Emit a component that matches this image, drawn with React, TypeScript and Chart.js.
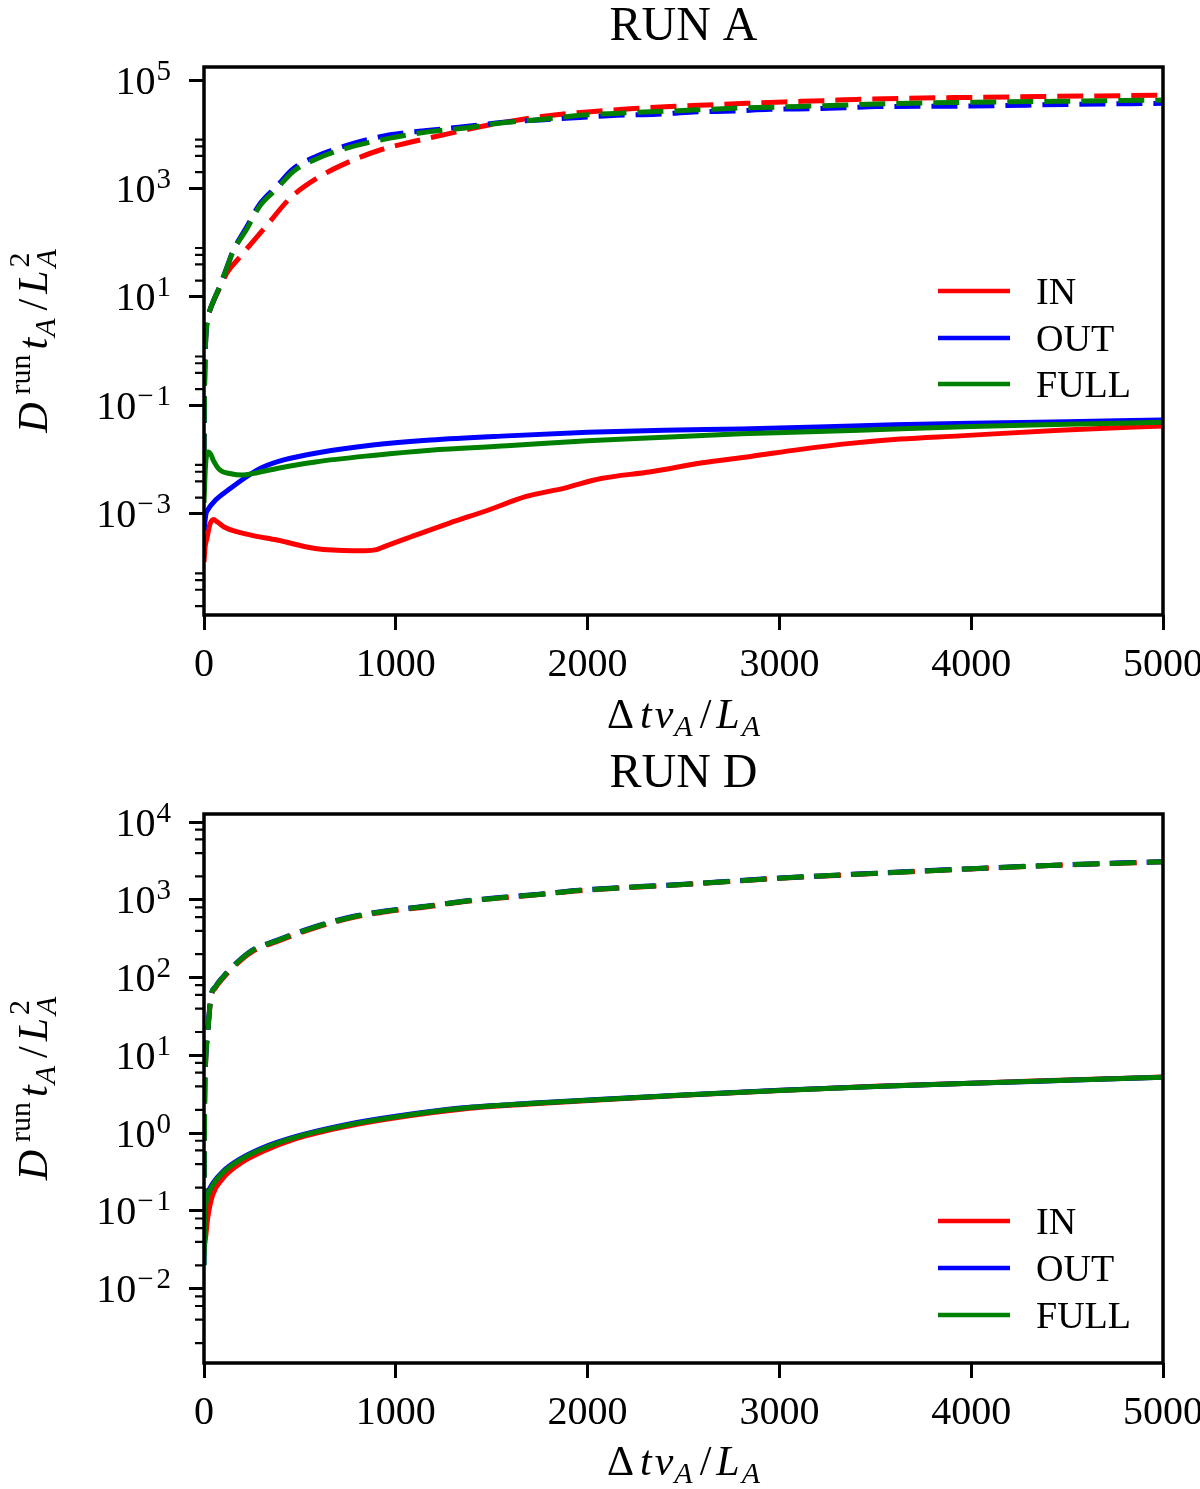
import { useEffect, useRef } from 'react';
import { Chart, registerables } from 'chart.js';

Chart.register(...registerables);

// x axis: Δt v_A / L_A
const X_TICKS = [0, 1000, 2000, 3000, 4000, 5000];

// ---------- RUN A (values of D^run t_A / L_A^2) ----------
const A_IN_SOLID_T = [0, 6, 15, 30, 50, 70, 110, 240, 380, 580, 780, 840, 900, 940, 1080, 1280, 1480, 1680, 1880, 2070, 2330, 2590, 2850, 3110, 3370, 3630, 3940, 4460, 5000];
const A_IN_SOLID = [1.3e-4, 2.5e-4, 3.5e-4, 6.3e-4, 7.9e-4, 7.1e-4, 5.6e-4, 4.1e-4, 3.3e-4, 2.3e-4, 2.1e-4, 2.1e-4, 2.2e-4, 2.5e-4, 3.8e-4, 6.8e-4, 1.17e-3, 2.1e-3, 3.0e-3, 4.5e-3, 6.0e-3, 8.7e-3, 1.15e-2, 1.55e-2, 2.0e-2, 2.4e-2, 2.75e-2, 3.5e-2, 4.2e-2];

const A_OUT_SOLID_T = [0, 10, 20, 60, 140, 220, 300, 420, 580, 880, 1180, 1580, 2000, 2400, 2800, 3200, 3600, 4000, 4500, 5000];
const A_OUT_SOLID = [5.0e-4, 1.0e-3, 1.2e-3, 1.8e-3, 3.0e-3, 4.8e-3, 7.1e-3, 1.0e-2, 1.32e-2, 1.86e-2, 2.3e-2, 2.75e-2, 3.2e-2, 3.5e-2, 3.7e-2, 4.0e-2, 4.4e-2, 4.7e-2, 5.0e-2, 5.4e-2];

const A_FULL_SOLID_T = [0, 8, 22, 35, 50, 80, 140, 200, 260, 380, 580, 880, 1180, 1580, 2000, 2400, 2800, 3200, 3600, 4000, 4500, 5000];
const A_FULL_SOLID = [1.6e-3, 7.9e-3, 1.38e-2, 1.26e-2, 9.5e-3, 6.6e-3, 5.5e-3, 5.2e-3, 5.6e-3, 6.9e-3, 9.1e-3, 1.2e-2, 1.5e-2, 1.8e-2, 2.24e-2, 2.6e-2, 3.0e-2, 3.3e-2, 3.7e-2, 4.1e-2, 4.5e-2, 4.9e-2];

const A_IN_DASH_T = [0, 3, 8, 16, 30, 47, 83, 120, 188, 328, 448, 589, 761, 918, 1048, 1248, 1439, 1647, 1839, 2030, 2221, 2430, 2621, 2830, 3020, 3229, 3420, 4000, 5000];
const A_IN_DASH = [1.0e-2, 0.25, 1.4, 3.5, 5.6, 7.9, 15, 28, 55, 210, 660, 1550, 3160, 5130, 6760, 9770, 13800, 18600, 22900, 26300, 29500, 32400, 34700, 37200, 39400, 41700, 44200, 47900, 52500];

const A_OUT_DASH_T = [0, 3, 8, 16, 30, 47, 83, 120, 151, 224, 292, 381, 464, 589, 740, 970, 1161, 1352, 1560, 1752, 1960, 2152, 2360, 2551, 2760, 2951, 3160, 3351, 3507, 4000, 4500, 5000];
const A_OUT_DASH = [1.0e-2, 0.25, 1.4, 3.5, 5.6, 8.1, 16, 36, 70, 200, 525, 1120, 2290, 3980, 6170, 9800, 11700, 13800, 16600, 18400, 20400, 22400, 23400, 25700, 26900, 28800, 29500, 30900, 32400, 33100, 35500, 37200];

const A_FULL_DASH_T = [0, 3, 8, 16, 30, 47, 83, 120, 151, 224, 292, 381, 464, 589, 740, 970, 1178, 1370, 1578, 1769, 1960, 2169, 2360, 2569, 2760, 2968, 3160, 3351, 3507, 4000, 4500, 5000];
const A_FULL_DASH = [1.0e-2, 0.25, 1.4, 3.5, 5.6, 8.1, 16, 35, 68, 182, 480, 1000, 2040, 3550, 5500, 8500, 11200, 13200, 16600, 19000, 22400, 24500, 26300, 28200, 30200, 31600, 33100, 34700, 36300, 38900, 40700, 42700];

const A_Y_MAJOR = [1e-3, 1e-1, 1e1, 1e3, 1e5];
const A_Y_MINOR = [2e-5, 4e-5, 6e-5, 8e-5, 2e-3, 4e-3, 6e-3, 8e-3, 0.2, 0.4, 0.6, 0.8, 20, 40, 60, 80, 2000, 4000, 6000, 8000];

// ---------- RUN D ----------
const D_SOLID_T = [0, 4, 10, 20, 45, 97, 184, 306, 480, 740, 1000, 1350, 1700, 2050, 2500, 3000, 3500, 4000, 4500, 5000];
const D_OUT_SOLID = [0.020, 0.085, 0.135, 0.17, 0.225, 0.32, 0.46, 0.65, 0.91, 1.29, 1.65, 2.12, 2.42, 2.71, 3.10, 3.56, 3.98, 4.37, 4.78, 5.23];
const D_FULL_SOLID = [0.020, 0.079, 0.126, 0.158, 0.214, 0.309, 0.447, 0.631, 0.891, 1.26, 1.62, 2.09, 2.40, 2.69, 3.09, 3.55, 3.98, 4.37, 4.79, 5.25];
const D_IN_SOLID_T = [0, 8, 19, 45, 97, 184, 306, 480, 740, 1000, 1350, 1700, 2050, 2500, 3000, 3500, 4000, 4500, 5000];
const D_IN_SOLID = [0.032, 0.045, 0.08, 0.16, 0.26, 0.40, 0.58, 0.85, 1.22, 1.58, 2.05, 2.37, 2.67, 3.08, 3.55, 4.0, 4.4, 4.82, 5.28];

const D_DASH_T = [0, 3, 8, 19, 36, 60, 97, 167, 254, 375, 567, 775, 966, 1175, 1349, 1557, 1748, 1957, 2500, 3000, 3500, 4000, 4500, 5000];
const D_IN_DASH = [0.03, 1.9, 7.6, 18.5, 54, 74, 97, 147, 218, 288, 428, 592, 713, 822, 945, 1062, 1168, 1312, 1572, 1892, 2182, 2500, 2810, 3080];
const D_OUT_DASH = [0.03, 2.0, 8.0, 19.5, 57, 77, 101, 153, 227, 299, 442, 610, 731, 838, 962, 1078, 1182, 1328, 1590, 1910, 2200, 2520, 2830, 3100];
const D_FULL_DASH = [0.03, 2.0, 7.9, 19, 56, 76, 100, 151, 224, 295, 437, 603, 724, 832, 955, 1070, 1175, 1320, 1580, 1900, 2190, 2510, 2820, 3090];

const D_Y_MAJOR = [1e-2, 1e-1, 1, 10, 100, 1000, 1e4];
const D_Y_MINOR = [2e-3, 4e-3, 6e-3, 8e-3, 0.02, 0.04, 0.06, 0.08, 0.2, 0.4, 0.6, 0.8, 2, 4, 6, 8, 20, 40, 60, 80, 200, 400, 600, 800, 2000, 4000, 6000, 8000];

const LABELS = ['IN', 'OUT', 'FULL'];
const COLORS = ['#ff0000', '#0000ff', '#008000'];

const SERIF = '"Liberation Serif", "Times New Roman", serif';

type Run = { t: string; size: number; it?: boolean; dy?: number; stack?: boolean; gap?: number };

function fontOf(r: Run) {
  return `${r.it ? 'italic ' : ''}${r.size}px ${SERIF}`;
}

function runsWidth(ctx: CanvasRenderingContext2D, runs: Run[]) {
  let w = 0;
  let held = 0;
  for (const r of runs) {
    ctx.font = fontOf(r);
    const m = ctx.measureText(r.t).width;
    if (r.stack) { held = m; continue; }
    w += Math.max(m, held) + (r.gap ?? 0);
    held = 0;
  }
  return w;
}

function drawRuns(ctx: CanvasRenderingContext2D, runs: Run[], x: number, y: number) {
  let cx = x;
  let held = 0;
  for (const r of runs) {
    ctx.font = fontOf(r);
    const m = ctx.measureText(r.t).width;
    ctx.fillText(r.t, cx, y + (r.dy ?? 0));
    if (r.stack) { held = m; continue; }
    cx += Math.max(m, held) + (r.gap ?? 0);
    held = 0;
  }
}

// Δt v_A / L_A
const X_LABEL: Run[] = [
  { t: 'Δ', size: 42, gap: 6 },
  { t: 't', size: 42, it: true, gap: 3 },
  { t: 'v', size: 42, it: true, gap: 1 },
  { t: 'A', size: 30, it: true, dy: 8, gap: 7 },
  { t: '/', size: 42, gap: 5 },
  { t: 'L', size: 42, it: true, gap: 2 },
  { t: 'A', size: 30, it: true, dy: 8 },
];

// D^run t_A / L_A^2
const Y_LABEL: Run[] = [
  { t: 'D', size: 42, it: true, gap: 8 },
  { t: 'run', size: 30, dy: -17, gap: 5 },
  { t: 't', size: 42, it: true, gap: 1 },
  { t: 'A', size: 30, it: true, dy: 8, gap: 8 },
  { t: '/', size: 42, gap: 5 },
  { t: 'L', size: 42, it: true, gap: 3 },
  { t: '2', size: 30, dy: -18, stack: true },
  { t: 'A', size: 30, it: true, dy: 9 },
];

type Line = { t: number[]; v: number[] };

type PanelProps = {
  title: string;
  height: number;
  axisHeight: number;
  yMin: number;
  yMax: number;
  majors: number[];
  minors: number[];
  solid: Line[];
  dashed: Line[];
  legendY: number[];
};

function Panel(p: PanelProps) {
  const canvasRef = useRef<HTMLCanvasElement>(null);

  useEffect(() => {
    const canvas = canvasRef.current;
    if (!canvas) return;

    const datasets: any[] = [];
    LABELS.forEach((label, i) => {
      const order = 3 - i; // FULL on top, IN at the bottom
      datasets.push({
        label,
        data: p.solid[i].t.map((x, k) => ({ x, y: p.solid[i].v[k] })),
        borderColor: COLORS[i],
        borderWidth: 5,
        pointRadius: 0,
        cubicInterpolationMode: 'monotone',
        clip: 0,
        order,
      });
      datasets.push({
        label: label + ' (dashed)',
        data: p.dashed[i].t.map((x, k) => ({ x, y: p.dashed[i].v[k] })),
        borderColor: COLORS[i],
        borderWidth: 5,
        borderDash: [26, 11],
        pointRadius: 0,
        cubicInterpolationMode: 'monotone',
        clip: 0,
        order,
      });
    });

    const decor = {
      id: 'decor',
      afterDraw(chart: any) {
        const { ctx, chartArea: a } = chart;
        const ys = chart.scales.y;
        ctx.save();
        ctx.strokeStyle = '#000';
        ctx.fillStyle = '#000';
        ctx.lineCap = 'butt';

        // minor ticks
        ctx.lineWidth = 2.2;
        ctx.beginPath();
        for (const v of p.minors) {
          const y = ys.getPixelForValue(v);
          ctx.moveTo(a.left - 9, y);
          ctx.lineTo(a.left, y);
        }
        ctx.stroke();

        // axes box
        ctx.lineWidth = 3.5;
        ctx.strokeRect(a.left, a.top, a.right - a.left, a.bottom - a.top);

        // y tick labels 10^k
        ctx.textAlign = 'left';
        ctx.textBaseline = 'alphabetic';
        for (const v of p.majors) {
          const y = ys.getPixelForValue(v);
          const k = Math.round(Math.log10(v));
          const runs: Run[] = [{ t: '10', size: 40, gap: 1 }];
          if (k < 0) runs.push({ t: '−', size: 29, dy: -14, gap: 3 });
          runs.push({ t: String(Math.abs(k)), size: 29, dy: -14 });
          drawRuns(ctx, runs, 171 - runsWidth(ctx, runs), y + 13.5);
        }

        // legend
        LABELS.forEach((label, i) => {
          const ly = p.legendY[i];
          ctx.strokeStyle = COLORS[i];
          ctx.lineWidth = 4.5;
          ctx.beginPath();
          ctx.moveTo(938, ly);
          ctx.lineTo(1010, ly);
          ctx.stroke();
          ctx.font = `38px ${SERIF}`;
          ctx.fillText(label, 1036, ly + 12.5);
        });

        // title
        const cx = (a.left + a.right) / 2;
        ctx.textAlign = 'center';
        ctx.font = `48px ${SERIF}`;
        ctx.fillText(p.title, cx, 40);

        // axis titles
        ctx.textAlign = 'left';
        const xw = runsWidth(ctx, X_LABEL);
        drawRuns(ctx, X_LABEL, cx - xw / 2, 728);

        const yw = runsWidth(ctx, Y_LABEL);
        ctx.translate(47, (a.top + a.bottom) / 2);
        ctx.rotate(-Math.PI / 2);
        drawRuns(ctx, Y_LABEL, -yw / 2, 0);

        ctx.restore();
      },
    };

    const tickGrid = { drawOnChartArea: false, tickLength: 15, tickWidth: 3, tickColor: '#000' };

    const chart = new Chart(canvas, {
      type: 'line',
      data: { datasets },
      options: {
        responsive: false,
        animation: false,
        events: [],
        layout: { padding: { top: 67, right: 37, bottom: 0, left: 0 } },
        plugins: { legend: { display: false }, tooltip: { enabled: false } },
        scales: {
          x: {
            type: 'linear',
            min: 0,
            max: 5000,
            afterBuildTicks: (s: any) => {
              s.ticks = X_TICKS.map((value) => ({ value }));
              s.min = 0;
              s.max = 5000;
            },
            ticks: {
              color: '#000',
              font: { family: SERIF, size: 40 },
              padding: 11,
              maxRotation: 0,
              autoSkip: false,
              callback: (v: any) => String(v),
            },
            grid: tickGrid,
            border: { display: false },
            afterFit: (s: any) => {
              s.height = p.axisHeight;
              s.paddingLeft = 0;
              s.paddingRight = 0;
            },
          },
          y: {
            type: 'logarithmic',
            min: p.yMin,
            max: p.yMax,
            afterBuildTicks: (s: any) => {
              s.ticks = p.majors.map((value) => ({ value }));
              s.min = p.yMin;
              s.max = p.yMax;
            },
            ticks: { display: false },
            grid: tickGrid,
            border: { display: false },
            afterFit: (s: any) => {
              s.width = 204;
              s.paddingTop = 0;
              s.paddingBottom = 0;
            },
          },
        },
      } as any,
      plugins: [decor],
    });

    return () => {
      chart.destroy();
    };
  }, [p]);

  return (
    <canvas
      ref={canvasRef}
      width={1200}
      height={p.height}
      style={{ display: 'block', width: 1200, height: p.height }}
    />
  );
}

export default function App() {
  useEffect(() => {
    document.body.style.margin = '0';
  }, []);

  return (
    <div style={{ width: 1200, background: '#fff' }}>
      <Panel
        title="RUN A"
        height={747}
        axisHeight={132}
        yMin={1.37e-5}
        yMax={1.74e5}
        majors={A_Y_MAJOR}
        minors={A_Y_MINOR}
        solid={[
          { t: A_IN_SOLID_T, v: A_IN_SOLID },
          { t: A_OUT_SOLID_T, v: A_OUT_SOLID },
          { t: A_FULL_SOLID_T, v: A_FULL_SOLID },
        ]}
        dashed={[
          { t: A_IN_DASH_T, v: A_IN_DASH },
          { t: A_OUT_DASH_T, v: A_OUT_DASH },
          { t: A_FULL_DASH_T, v: A_FULL_DASH },
        ]}
        legendY={[291, 338, 384]}
      />
      <Panel
        title="RUN D"
        height={742}
        axisHeight={126}
        yMin={1.11e-3}
        yMax={1.27e4}
        majors={D_Y_MAJOR}
        minors={D_Y_MINOR}
        solid={[
          { t: D_IN_SOLID_T, v: D_IN_SOLID },
          { t: D_SOLID_T, v: D_OUT_SOLID },
          { t: D_SOLID_T, v: D_FULL_SOLID },
        ]}
        dashed={[
          { t: D_DASH_T, v: D_IN_DASH },
          { t: D_DASH_T, v: D_OUT_DASH },
          { t: D_DASH_T, v: D_FULL_DASH },
        ]}
        legendY={[474, 521, 568]}
      />
    </div>
  );
}
